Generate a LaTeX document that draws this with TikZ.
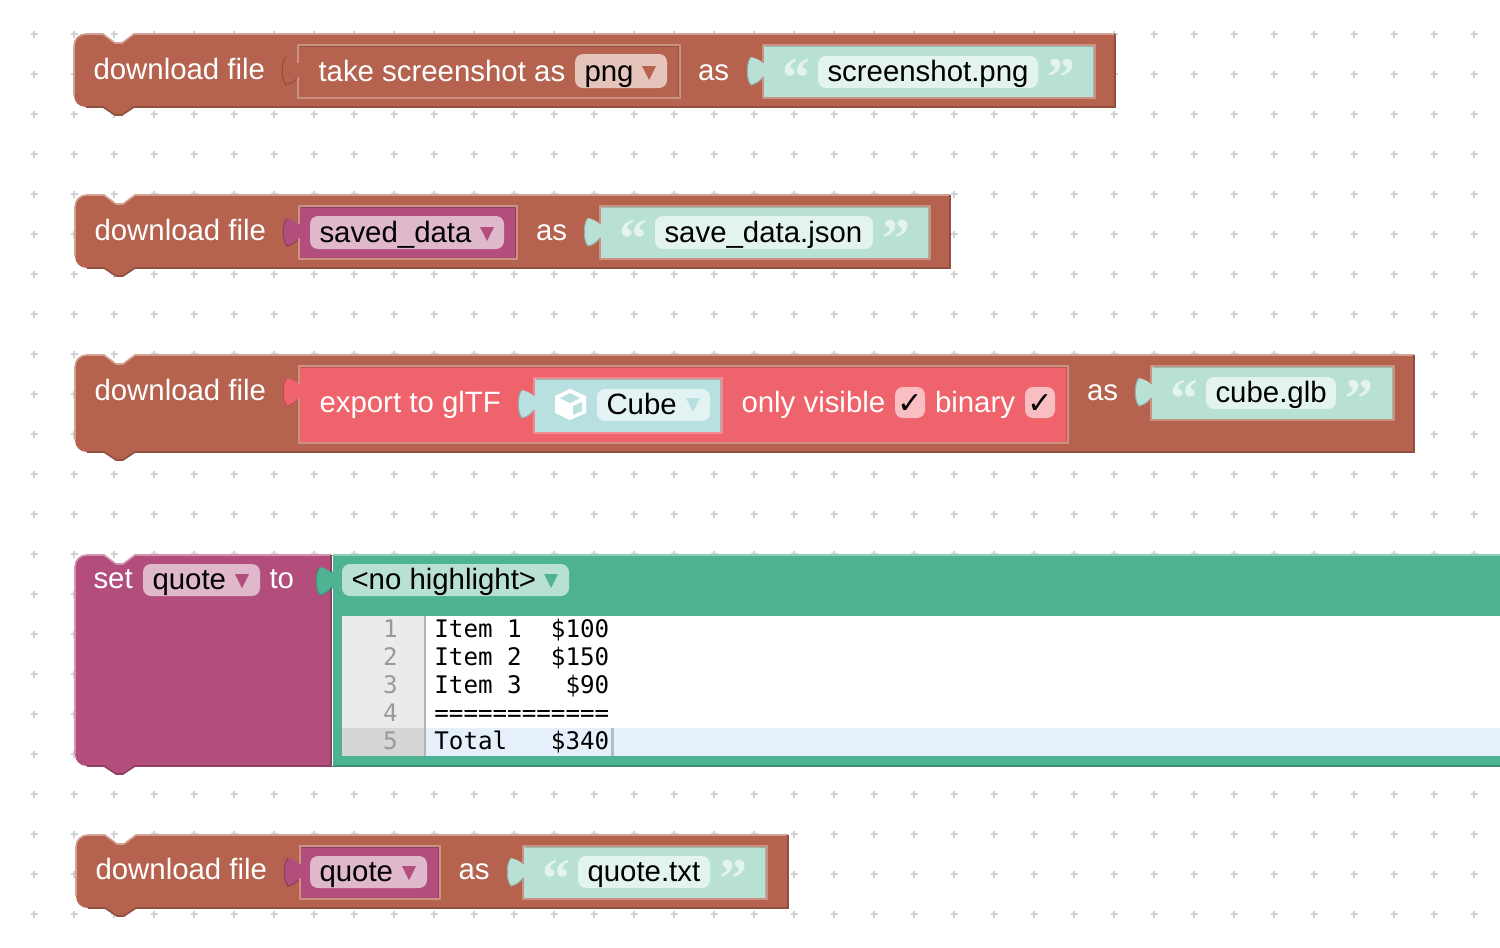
\documentclass[tikz,border=0pt]{standalone}
\usepackage{fontspec}
\setmainfont{Liberation Sans}
\newfontfamily\quotefont{Liberation Serif}
\newfontfamily\codefont{DejaVu Sans Mono}
\newfontfamily\symfont{DejaVu Sans}
\definecolor{brown}{HTML}{B5634F}
\definecolor{brownL}{HTML}{D2A194}
\definecolor{brownE}{HTML}{CB9283}
\definecolor{brownD}{HTML}{91503F}
\definecolor{plum}{HTML}{B24D7C}
\definecolor{plumL}{HTML}{D194B0}
\definecolor{plumD}{HTML}{8E3E63}
\definecolor{plumF}{HTML}{E0B8CB}
\definecolor{brownF}{HTML}{E5C4BB}
\definecolor{mint}{HTML}{B9E0D5}
\definecolor{mintF}{HTML}{E3F3EE}
\definecolor{coral}{HTML}{EE636C}
\definecolor{coralL}{HTML}{F28A91}
\definecolor{coralF}{HTML}{F8BEC2}
\definecolor{cyanb}{HTML}{B8E0E1}
\definecolor{cyanF}{HTML}{E3F3F3}
\definecolor{green}{HTML}{4DB393}
\definecolor{greenL}{HTML}{8DD0BA}
\definecolor{greenD}{HTML}{3E8F76}
\definecolor{greenF}{HTML}{B8E1D4}
\definecolor{hiline}{HTML}{E6F0FA}
\definecolor{cursor}{HTML}{B0BCC8}
\tikzset{
  lbl/.style={anchor=base west,inner sep=0pt,outer sep=0pt,xshift=-0.25pt,text=white,font=\fontsize{14.7}{17}\selectfont},
  fld/.style={lbl,text=black},
  code/.style={anchor=base west,inner sep=0pt,text=black,font=\codefont\fontsize{12.1}{14}\selectfont},
  num/.style={anchor=base east,inner sep=0pt,text=black!40,font=\codefont\fontsize{12.1}{14}\selectfont},
  qt/.style={anchor=base west,inner sep=0pt,text=mintF,font=\quotefont\bfseries\fontsize{28}{28}\selectfont},
  ck/.style={anchor=center,inner sep=0pt,text=black,font=\symfont\bfseries\fontsize{15}{16}\selectfont},
}
% outer statement block: x1,y1,x2,y2,fill,light,dark
\newcommand{\outerblock}[7]{%
  \fill[#5] (#1+12,#2) -- (#1+29,#2) -- (#1+41,#2+9) -- (#1+48,#2+9) -- (#1+60,#2) -- (#3,#2) -- (#3,#4)
    -- (#1+60,#4) -- (#1+48,#4+8) -- (#1+41,#4+8) -- (#1+29,#4) -- (#1+12,#4)
    .. controls (#1+5,#4) and (#1,#4-5) .. (#1,#4-12) -- (#1,#2+12)
    .. controls (#1,#2+5) and (#1+5,#2) .. (#1+12,#2) -- cycle;
  \draw[#6,line width=.8pt] (#1,#4-12) -- (#1,#2+12) .. controls (#1,#2+5) and (#1+5,#2) .. (#1+12,#2) -- (#1+29,#2) -- (#1+41,#2+9) -- (#1+48,#2+9) -- (#1+60,#2) -- (#3,#2);
  \draw[#7,line width=.8pt] (#3,#2) -- (#3,#4) -- (#1+60,#4) -- (#1+48,#4+8) -- (#1+41,#4+8) -- (#1+29,#4) -- (#1+12,#4);
}
% input block with a puzzle tab: x,y,w,h,fill,edge,tabshift
\newcommand{\inblock}[7]{%
  \fill[#5,shift={(#1,#2)}]
    (0,0) -- (#3,0) -- (#3,#4) -- (0,#4) -- (0,32+#7)
    .. controls (-3,36+#7) and (-7,39+#7) .. (-12,40+#7)
    .. controls (-17,35+#7) and (-17,17+#7) .. (-12,12+#7)
    .. controls (-8,13+#7) and (-3,15+#7) .. (0,18+#7) -- cycle;
  \draw[#5!78!black,line width=.5pt,shift={(#1,#2)}]
    (0,32+#7) .. controls (-3,36+#7) and (-7,39+#7) .. (-12,40+#7)
    .. controls (-17,35+#7) and (-17,17+#7) .. (-12,12+#7);
  \draw[#6,line width=.9pt,shift={(#1,#2)}]
    (0,18+#7) -- (0,0) -- (#3,0) -- (#3,#4) -- (0,#4) -- (0,32+#7);
  \draw[#5!82!black,line width=.4pt,shift={(#1,#2)}]
    (1.5,1.5) -- (#3-1.5,1.5) -- (#3-1.5,#4-1.5);
}
\newcommand{\field}[5]{\fill[#5,rounded corners=4pt] (#1,#2) rectangle (#3,#4);}
\newcommand{\tri}[3]{\fill[#3] (#1,#2) -- (#1+14,#2) -- (#1+7,#2+14) -- cycle;}
\begin{document}
\begin{tikzpicture}[x=0.5pt,y=-0.5pt]
\useasboundingbox (0,0) rectangle (1500,948);
\fill[white] (0,0) rectangle (1500,948);
% dotted workspace grid
\foreach \i in {0,...,36}{\foreach \j in {0,...,22}{
  \draw[black!18,line width=.6pt] ({34+40*\i-3.5},{34+40*\j}) -- ++(7,0) ({34+40*\i},{34+40*\j-3.5}) -- ++(0,7);
}}
% ---------- block 1
\outerblock{74}{34}{1115}{107}{brown}{brownL}{brownD}
\node[lbl] (dl1) at (94,79) {download file};
\inblock{298}{45}{382}{53}{brown}{brownE}{0}
\node[lbl] (shot) at (319,81) {take screenshot as};
\field{575}{54}{667}{88}{brownF}
\node[fld] (png) at (585,81) {png};
\tri{642}{66}{brown}
\node[lbl] (as1) at (698.5,80) {as};
\inblock{763}{45}{332}{53}{mint}{brownE}{0}
\node[qt] (q1a) at (782,96) {“};
\field{818}{56}{1038}{88}{mintF}
\node[fld] (s1) at (828,81) {screenshot.png};
\node[qt] (q1b) at (1047,96) {”};
% ---------- block 2
\outerblock{75}{195}{950}{268}{brown}{brownL}{brownD}
\node[lbl] (dl2) at (95,240) {download file};
\inblock{299}{206}{218}{53}{plum}{brownE}{0}
\field{310}{216}{504}{249}{plumF}
\node[fld] (saved) at (320,242) {saved\_data};
\tri{480}{227}{plum}
\node[lbl] (as2) at (536.5,240) {as};
\inblock{600}{206}{330}{53}{mint}{brownE}{0}
\node[qt] (q2a) at (619,257) {“};
\field{655}{216}{873}{249}{mintF}
\node[fld] (s2) at (665,242) {save\_data.json};
\node[qt] (q2b) at (882,257) {”};
% ---------- block 3
\outerblock{75}{355}{1414}{452}{brown}{brownL}{brownD}
\node[lbl] (dl3) at (95,400) {download file};
\inblock{299}{366}{769}{77}{coral}{brownE}{0}
\node[lbl] (gltf) at (320,412) {export to glTF};
\inblock{534}{378}{188}{55}{cyanb}{coralL}{0}
% cube icon
\fill[white] (570,389) -- (586,396) -- (586,413) -- (570,420) -- (555,413) -- (555,396) -- cycle;
\fill[cyanb] (570,393) -- (580,398) -- (570,403) -- (560,398) -- cycle;
\fill[cyanb] (573,406) -- (582,402) -- (582,411) -- (573,415) -- cycle;
\field{597}{389}{710}{421}{cyanF}
\node[fld] (cube) at (607,414) {Cube};
\tri{686}{398}{cyanb}
\node[lbl] (vis) at (742,412) {only visible};
\field{895}{387}{925}{418}{coralF}
\node[ck] (c1) at (910,404) {✓};
\node[lbl] (bin) at (935.5,412) {binary};
\field{1025}{387}{1055}{418}{coralF}
\node[ck] (c2) at (1040,404) {✓};
\node[lbl] (as3) at (1087.5,400) {as};
\inblock{1151}{366}{243}{54}{mint}{brownE}{0}
\node[qt] (q3a) at (1170,417) {“};
\field{1206}{377}{1336}{409}{mintF}
\node[fld] (s3) at (1216,402) {cube.glb};
\node[qt] (q3b) at (1345,417) {”};
% ---------- block 4
\fill[green] (332,555) rectangle (1500,766);
\draw[greenL,line width=.6pt] (333,555) -- (1500,555);
\draw[greenD,line width=.8pt] (332,766) -- (1500,766);
\outerblock{75}{555}{331}{766}{plum}{plumL}{plumD}
\draw[white,line width=.6pt] (332.5,556) -- (332.5,766);
\node[lbl] (set) at (94,588) {set};
\field{143}{564}{260}{596}{plumF}
\node[fld] (qv) at (153,589) {quote};
\tri{235}{574}{plum}
\node[lbl] (to) at (270,588) {to};
\fill[green,shift={(332,555)}] (1,15) -- (1,35) -- (0,32)
    .. controls (-3,36) and (-7,39) .. (-12,40)
    .. controls (-17,35) and (-17,17) .. (-12,12)
    .. controls (-8,13) and (-3,15) .. (0,18) -- cycle;
\draw[greenD,line width=.5pt,shift={(332,555)}] (0,32)
    .. controls (-3,36) and (-7,39) .. (-12,40)
    .. controls (-17,35) and (-17,17) .. (-12,12);
\field{342}{564}{569}{596}{greenF}
\node[fld] (hl) at (352,589) {<no highlight>};
\tri{544}{574}{green}
\fill[white] (342,616) rectangle (1500,756);
\fill[black!8] (342,616) rectangle (424,756);
\fill[black!16] (342,728) rectangle (424,756);
\fill[black!30] (424,616) rectangle (426,756);
\fill[hiline] (426,728) rectangle (1500,756);
\fill[cursor] (611,728) rectangle (614,756);
\node[num] (n1) at (398,637.5) {1};
\node[num] (n2) at (398,665.5) {2};
\node[num] (n3) at (398,693.5) {3};
\node[num] (n4) at (398,721.5) {4};
\node[num] (n5) at (398,749.5) {5};
\node[code] (l1) at (434,637.5) {Item~1~~\$100};
\node[code] (l2) at (434,665.5) {Item~2~~\$150};
\node[code] (l3) at (434,693.5) {Item~3~~~\$90};
\node[code] (l4) at (434,721.5) {============};
\node[code] (l5) at (434,749.5) {Total~~~\$340};
% ---------- block 5
\outerblock{76}{835}{788}{908}{brown}{brownL}{brownD}
\node[lbl] (dl5) at (96,879) {download file};
\inblock{300}{846}{140}{53}{plum}{brownE}{0}
\field{310}{856}{427}{888}{plumF}
\node[fld] (qv2) at (320,881) {quote};
\tri{402}{866}{plum}
\node[lbl] (as5) at (459,879) {as};
\inblock{523}{846}{244}{53}{mint}{brownE}{0}
\node[qt] (q5a) at (542,897) {“};
\field{578}{856}{710}{888}{mintF}
\node[fld] (s5) at (588,881) {quote.txt};
\node[qt] (q5b) at (719,897) {”};
\end{tikzpicture}
\end{document}
